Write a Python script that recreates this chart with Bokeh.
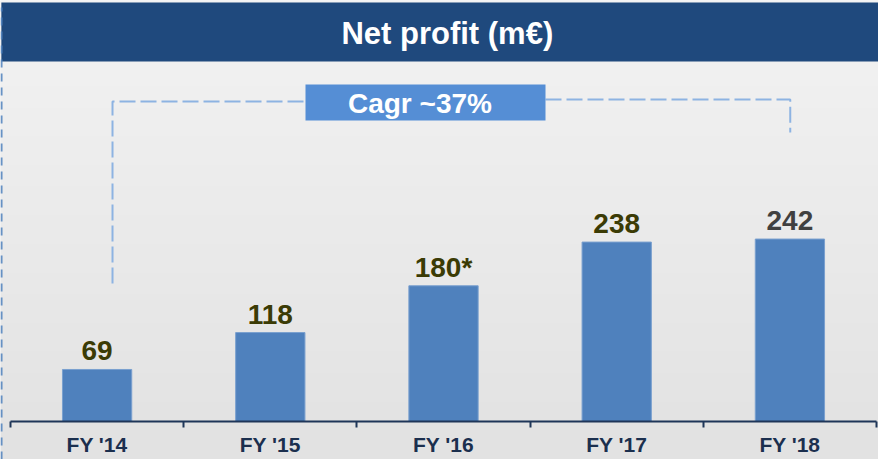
import numpy as np
from bokeh.plotting import figure
from bokeh.models import ColumnDataSource, LabelSet, FixedTicker, Range1d
from bokeh.core.properties import value, field
from bokeh.embed import file_html
from bokeh.resources import INLINE

# ---- data ----
categories = ["FY '14", "FY '15", "FY '16", "FY '17", "FY '18"]
net_profit = [69, 118, 180, 238, 242]
value_labels = ["69", "118", "180*", "238", "242"]
label_colors = ["#3b3b05", "#3b3b05", "#3b3b05", "#3b3b05", "#404040"]
title_text = "Net profit (m€)"
cagr_text = "Cagr ~37%"

FONT = "Liberation Sans"
xs = list(range(len(categories)))

X0, X1 = -0.5577, 4.5115
Y0, Y1 = -50.4, 558.4

p = figure(width=878, height=459, x_range=Range1d(X0, X1), y_range=Range1d(Y0, Y1),
           output_backend="svg", toolbar_location=None, y_axis_location=None,
           min_border=0, background_fill_color="#ececec", border_fill_color="#e4e4e4",
           outline_line_color=None)
p.grid.visible = False

# background gradient
n = 64
shade = np.linspace(243, 226, n)[::-1].astype(np.uint8)
img = np.zeros((n, 1), dtype=np.uint32)
view = img.view(dtype=np.uint8).reshape((n, 1, 4))
view[:, 0, 0] = shade
view[:, 0, 1] = shade
view[:, 0, 2] = shade
view[:, 0, 3] = 255
p.image_rgba(image=[img], x=X0, y=Y0, dw=X1 - X0, dh=Y1 - Y0)

# title band
p.quad(left=X0 + 0.005, right=X1 + 0.1, top=555.7, bottom=477.5,
       fill_color="#1f497d", line_color=None)
title_src = ColumnDataSource(dict(x=[2.022], y=[500.4], t=[title_text]))
p.add_layout(LabelSet(x="x", y="y", text="t", source=title_src, text_align="center",
                      text_baseline="alphabetic", text_font=value(FONT),
                      text_font_size=value("31px"), text_font_style="bold",
                      text_color="white"))

# left page dashed line
p.line(x=[X0 + 0.006, X0 + 0.006], y=[Y0, 549], line_color="#4f81bd",
       line_width=2, line_dash="8 6", line_alpha=0.85)

# CAGR bracket
p.multi_line(xs=[[xs[0] + 0.089, xs[0] + 0.089, 1.2032], [2.5889, xs[-1] + 0.002, xs[-1] + 0.002]],
             ys=[[183, 424.4, 424.4], [427.1, 427.1, 383.3]],
             line_color="#8db3e2", line_width=2, line_dash="16 5")
p.quad(left=1.2032, right=2.5889, top=446.9, bottom=399.2,
       fill_color="#558ed5", line_color=None)
cagr_src = ColumnDataSource(dict(x=[1.864], y=[409.8], t=[cagr_text]))
p.add_layout(LabelSet(x="x", y="y", text="t", source=cagr_src, text_align="center",
                      text_baseline="alphabetic", text_font=value(FONT),
                      text_font_size=value("28px"), text_font_style="bold",
                      text_color="white"))

# bars
src = ColumnDataSource(dict(x=xs, v=net_profit, label=value_labels, color=label_colors))
p.vbar(x="x", top="v", width=0.4, source=src, fill_color="#4f81bd",
       line_color="#7aa0cf", line_width=1)
p.add_layout(LabelSet(x="x", y="v", text="label", source=src, text_align="center",
                      text_baseline="alphabetic", y_offset=9, text_font=value(FONT),
                      text_font_size=value("28px"), text_font_style="bold",
                      text_color=field("color")))

# x axis
ax = p.xaxis[0]
ax.fixed_location = 0
ax.ticker = FixedTicker(ticks=xs, minor_ticks=[i - 0.5 for i in range(len(categories) + 1)])
ax.major_label_overrides = {i: c for i, c in enumerate(categories)}
ax.bounds = (-0.5, len(categories) - 0.5)
ax.axis_line_color = "#1f3659"
ax.axis_line_width = 2
ax.major_tick_line_color = None
ax.major_tick_out = 0
ax.major_tick_in = 0
ax.minor_tick_line_color = "#1f3659"
ax.minor_tick_line_width = 2
ax.minor_tick_out = 6
ax.minor_tick_in = 0
ax.major_label_standoff = 5
ax.major_label_text_font = FONT
ax.major_label_text_font_size = "21px"
ax.major_label_text_font_style = "bold"
ax.major_label_text_color = "#1b2f4e"

open("out.html", "w").write(file_html(p, INLINE))
